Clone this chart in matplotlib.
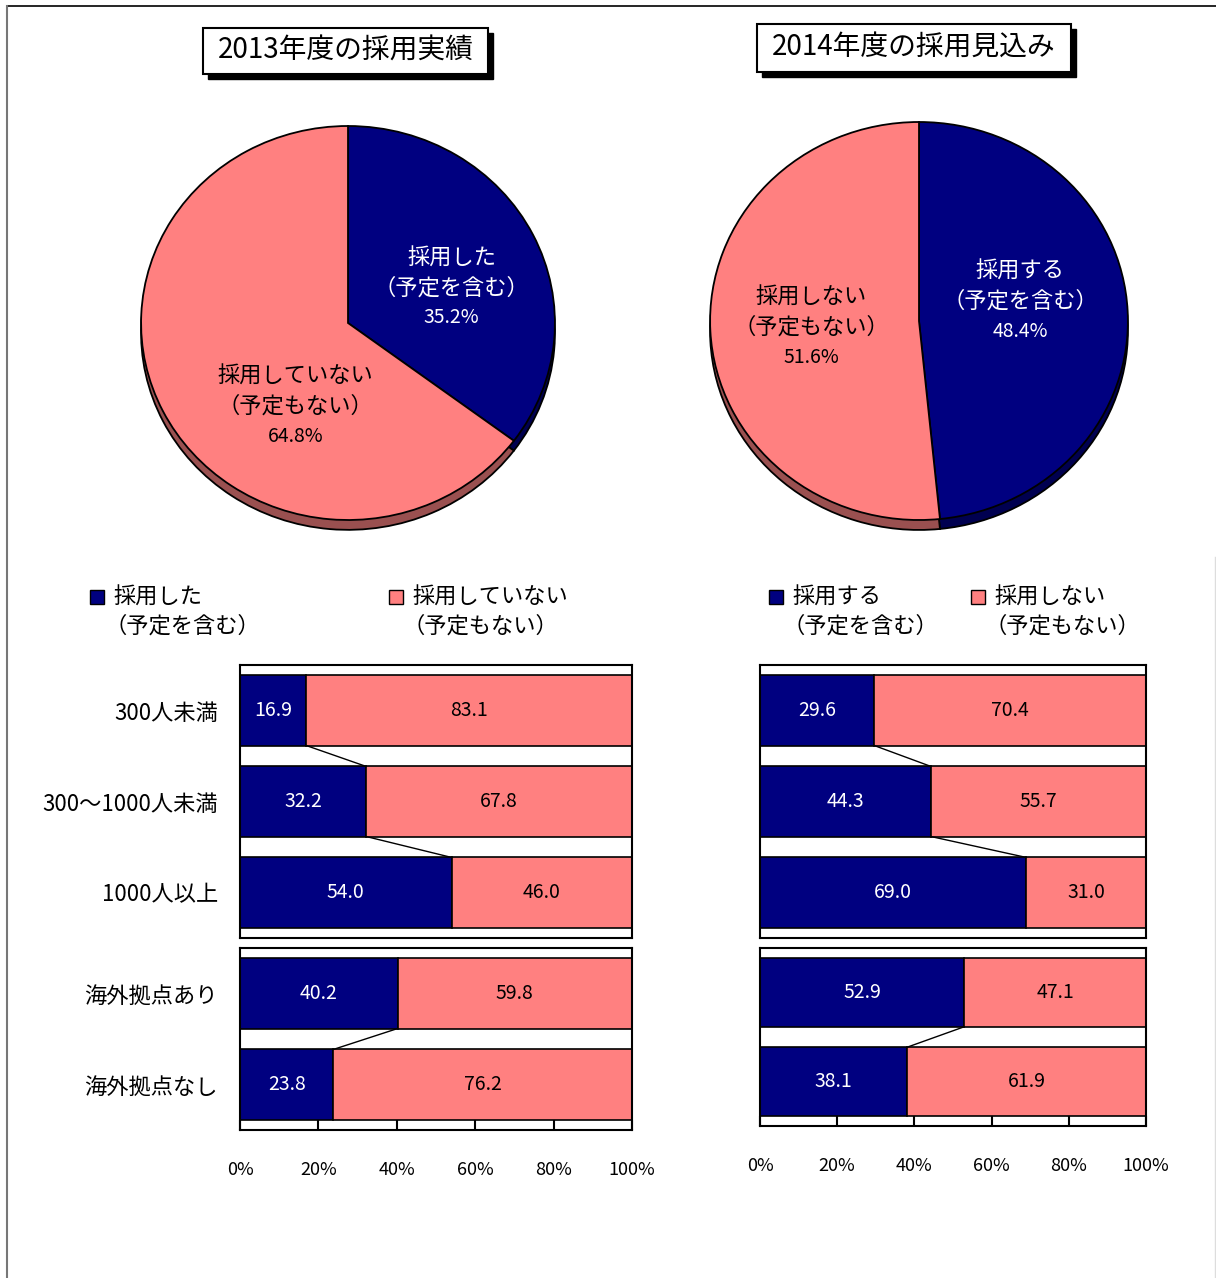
import numpy as np
import matplotlib
matplotlib.use('Agg')
import matplotlib.pyplot as plt
from matplotlib.patches import Rectangle

plt.rcParams['font.family'] = ['Noto Sans CJK JP', 'DejaVu Sans']

W, H = 1216, 1278
NAVY = '#000080'
PINK = '#FF8080'
NAVY_SH = '#000050'
PINK_SH = '#9A5050'

# data
pie_2013 = [35.2, 64.8]
pie_2014 = [48.4, 51.6]
pie_names_2013 = [['採用した', '（予定を含む）'], ['採用していない', '（予定もない）']]
pie_names_2014 = [['採用する', '（予定を含む）'], ['採用しない', '（予定もない）']]

size_cats = ['300人未満', '300～1000人未満', '1000人以上']
base_cats = ['海外拠点あり', '海外拠点なし']
hire_2013_size = [16.9, 32.2, 54.0]
nohire_2013_size = [83.1, 67.8, 46.0]
hire_2013_base = [40.2, 23.8]
nohire_2013_base = [59.8, 76.2]
hire_2014_size = [29.6, 44.3, 69.0]
nohire_2014_size = [70.4, 55.7, 31.0]
hire_2014_base = [52.9, 38.1]
nohire_2014_base = [47.1, 61.9]
xtick_vals = [0, 20, 40, 60, 80, 100]


def rect(x0, y0, x1, y1):
    # pixel box (top-left origin) -> figure fraction rect
    return [x0 / W, 1 - y1 / H, (x1 - x0) / W, (y1 - y0) / H]


def fx(x):
    return x / W


def fy(y):
    return 1 - y / H


fig = plt.figure(figsize=(W / 100, H / 100), dpi=100)

# outer frame bits
fig.add_artist(plt.Line2D([fx(7), fx(1216)], [fy(6), fy(6)], color='black', lw=1.2))
fig.add_artist(plt.Line2D([fx(7), fx(7)], [fy(6), fy(1278)], color='#777777', lw=1.5))
fig.add_artist(plt.Line2D([fx(1215), fx(1215)], [fy(557), fy(1278)], color='#dddddd', lw=1))


def title_box(x0, y0, x1, y1, text):
    sh = Rectangle((fx(x0 + 5), fy(y1 + 5)), (x1 - x0) / W, (y1 - y0) / H,
                   transform=fig.transFigure, facecolor='black', edgecolor='black')
    box = Rectangle((fx(x0), fy(y1)), (x1 - x0) / W, (y1 - y0) / H,
                    transform=fig.transFigure, facecolor='white', edgecolor='black', lw=1.5)
    fig.add_artist(sh)
    fig.add_artist(box)
    fig.text(fx((x0 + x1) / 2), fy((y0 + y1) / 2), text, ha='center', va='center', fontsize=20)


title_box(203, 28, 488, 74, '2013年度の採用実績')
title_box(757, 24, 1071, 72, '2014年度の採用見込み')


def pie_panel(cx, cy, rx, ry, vals, names, label_pos):
    # axes spans x -1..1, y -1.12..1.02 in radius units
    ax = fig.add_axes(rect(cx - rx, cy - 1.02 * ry, cx + rx, cy + 1.12 * ry))
    ax.pie(vals, colors=[NAVY_SH, PINK_SH], startangle=90, counterclock=False,
           center=(0, -0.05), wedgeprops=dict(edgecolor='black', linewidth=1.3))
    ax.pie(vals, colors=[NAVY, PINK], startangle=90, counterclock=False,
           wedgeprops=dict(edgecolor='black', linewidth=1.3))
    ax.set_aspect('auto')
    ax.set_xlim(-1.01, 1.01)
    ax.set_ylim(-1.12, 1.02)
    ax.axis('off')
    for (lx, ly), nm, v, tc in zip(label_pos, names, vals, ['white', 'black']):
        lines = nm + [f'{v:.1f}%']
        for k, ln in enumerate(lines):
            ax.text(lx, ly - k * 0.152, ln, ha='center', va='center', color=tc,
                    fontsize=16 if k < 2 else 14)


pie_panel(348, 323, 209, 197, pie_2013, pie_names_2013, [(0.50, 0.33), (-0.254, -0.27)])
pie_panel(919, 321, 211, 199, pie_2014, pie_names_2014, [(0.483, 0.25), (-0.517, 0.12)])


def legend(x_sq, names, colors):
    for xs, nm, c in zip(x_sq, names, colors):
        fig.add_artist(Rectangle((fx(xs), fy(604)), 14 / W, 14 / H, transform=fig.transFigure,
                                 facecolor=c, edgecolor='black', lw=1))
        fig.text(fx(xs + 23), fy(597), nm[0], ha='left', va='center', fontsize=16)
        fig.text(fx(xs + 14), fy(626), nm[1], ha='left', va='center', fontsize=16)


legend([90, 389], pie_names_2013, [NAVY, PINK])
legend([769, 971], pie_names_2014, [NAVY, PINK])


def bar_panel(box, hire, nohire, cats, ticks):
    ax = fig.add_axes(rect(*box))
    n = len(hire)
    y = np.arange(n)
    h = 0.77
    ax.barh(y, hire, height=h, color=NAVY, edgecolor='black', linewidth=1.2)
    ax.barh(y, nohire, left=hire, height=h, color=PINK, edgecolor='black', linewidth=1.2)
    for i in range(n - 1):
        ax.plot([hire[i], hire[i + 1]], [i + h / 2, i + 1 - h / 2], color='black', lw=1)
    for i in range(n):
        ax.text(hire[i] / 2, i, f'{hire[i]:.1f}', ha='center', va='center', color='white', fontsize=14)
        ax.text(hire[i] + nohire[i] / 2, i, f'{nohire[i]:.1f}', ha='center', va='center',
                color='black', fontsize=14)
    ax.set_xlim(0, 100)
    ax.set_ylim(n - 0.5, -0.5)
    for s in ax.spines.values():
        s.set_linewidth(1.5)
    if cats:
        ax.set_yticks(y, cats)
        ax.tick_params(axis='y', length=0, pad=16, labelsize=16)
    else:
        ax.set_yticks([])
    if ticks:
        ax.set_xticks(xtick_vals, [f'{v}%' for v in xtick_vals])
        ax.tick_params(axis='x', direction='in', length=7, width=1.5, pad=22, labelsize=13)
    else:
        ax.set_xticks([])
    return ax


bar_panel((240, 665, 632, 938), hire_2013_size, nohire_2013_size, size_cats, False)
bar_panel((240, 948, 632, 1130), hire_2013_base, nohire_2013_base, base_cats, True)
bar_panel((760, 665, 1146, 938), hire_2014_size, nohire_2014_size, None, False)
bar_panel((760, 948, 1146, 1126), hire_2014_base, nohire_2014_base, None, True)

fig.savefig('out.png', dpi=100)
